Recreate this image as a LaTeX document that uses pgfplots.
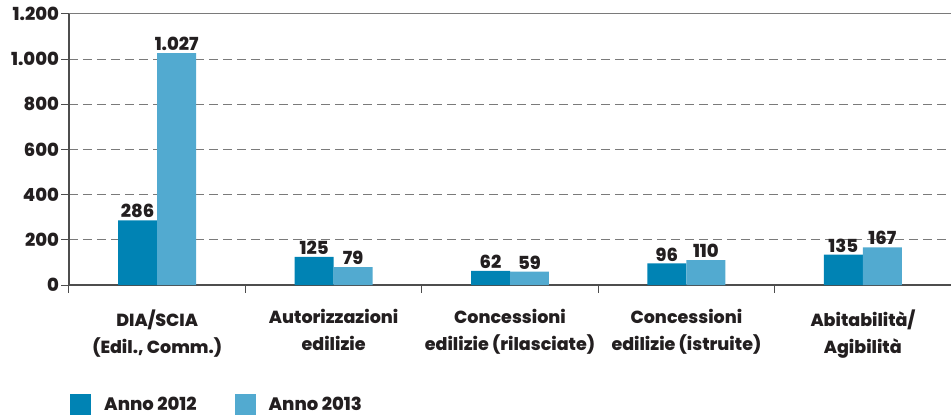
\documentclass[border=0pt]{standalone}
\usepackage{pgfplots}
\pgfplotsset{compat=1.18}
\usepackage{fontspec}
\setmainfont{Poppins}[BoldFont={Poppins ExtraBold}]
\definecolor{dark}{HTML}{0083B4}
\definecolor{light}{HTML}{52AAD0}
\definecolor{txt}{HTML}{231F20}
\definecolor{axisc}{HTML}{4D4D4D}
\definecolor{gridc}{HTML}{7A7A7A}
\begin{document}
\begin{tikzpicture}
\begin{axis}[
  scale only axis, width=882pt, height=271pt,
  xmin=-0.5, xmax=4.5, ymin=0, ymax=1200,
  axis x line*=bottom, axis y line*=left,
  axis line style={-, axisc, line width=1.2pt},
  tick align=outside, major tick length=7.5pt,
  tick style={axisc, line width=1pt},
  ybar=0pt, bar width=0.221,
  xtick={-0.5,0.5,1.5,2.5,3.5,4.5}, xticklabels={},
  extra x ticks={0,1,2,3,4},
  extra x tick labels={{DIA/SCIA\\(Edil., Comm.)},{Autorizzazioni\\edilizie},{Concessioni\\edilizie (rilasciate)},{Concessioni\\edilizie (istruite)},{Abitabilità/\\Agibilità}},
  extra x tick style={major tick length=0pt, grid=none},
  x tick label style={align=center, font=\fontsize{17.5}{27}\selectfont\bfseries, text=txt, yshift=-21pt},
  ytick={0,200,...,1000},
  extra y ticks={1200},
  extra y tick style={grid=major, major grid style={solid, gridc, line width=1pt}},
  ymajorgrids,
  major grid style={gridc, line width=1pt, dash pattern=on 9pt off 5pt},
  y tick label style={font=\fontsize{18}{21}\selectfont\bfseries, text=txt, xshift=1pt},
  /pgf/number format/1000 sep={.},
  /pgf/number format/assume math mode=true,
  nodes near coords,
  every node near coord/.append style={font=\fontsize{18}{21}\selectfont\bfseries, text=txt, inner sep=2pt},
  legend columns=2,
  legend style={at={(0,0)}, anchor=west, xshift=1pt, yshift=-119.5pt, draw=none, fill=none, inner sep=0pt,
    font=\fontsize{18}{21}\selectfont\bfseries, text=txt,
    /tikz/every odd column/.append style={column sep=11pt},
    /tikz/every even column/.append style={column sep=36pt}},
  legend image code/.code={\fill[#1] (0pt,-10.5pt) rectangle (21pt,10.5pt);},
]
\addplot[fill=dark, draw=none] coordinates {(0,286) (1,125) (2,62) (3,96) (4,135)};
\addplot[fill=light, draw=none] coordinates {(0,1027) (1,79) (2,59) (3,110) (4,167)};
\legend{Anno 2012, Anno 2013}
\end{axis}
\pgfresetboundingbox
\path[use as bounding box] (-69pt,-130pt) rectangle (882pt,285pt);
\end{tikzpicture}
\end{document}
